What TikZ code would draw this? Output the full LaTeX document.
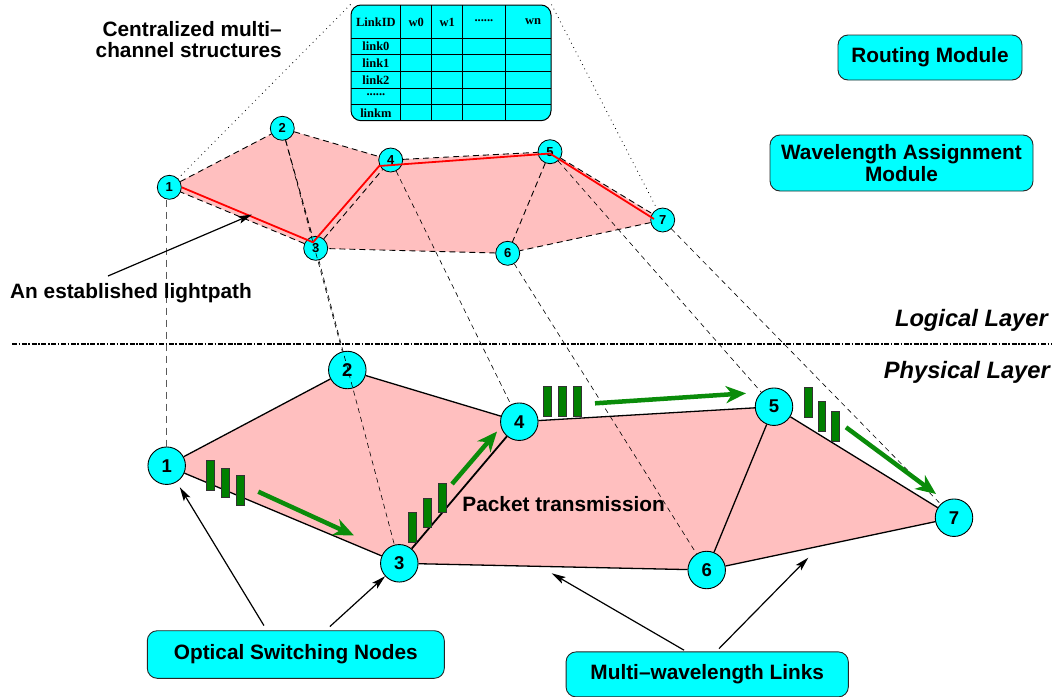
\documentclass[tikz,border=0pt]{standalone}
\usepackage{fontspec}
\setmainfont{Liberation Sans}
\newfontfamily\tabfont{Liberation Serif}
\usetikzlibrary{arrows.meta,calc}
\pgfdeclarelayer{bg}
\pgfsetlayers{bg,main}
\definecolor{ncyan}{RGB}{0,255,255}
\definecolor{npink}{RGB}{255,191,191}
\definecolor{bargreen}{RGB}{0,128,0}
\definecolor{arrgreen}{RGB}{10,140,10}
\begin{document}
\begin{tikzpicture}[x=1pt,y=-1pt,
  lnode/.style={circle,draw=black,line width=0.8pt,fill=ncyan,minimum size=24pt,inner sep=0pt,font=\bfseries\fontsize{13}{13}\selectfont},
  pnode/.style={circle,draw=black,line width=0.9pt,fill=ncyan,minimum size=37.5pt,inner sep=0pt,font=\bfseries\fontsize{18.5}{18.5}\selectfont},
  infobox/.style={draw=black!85,line width=0.9pt,fill=ncyan,rounded corners=10pt,inner sep=0pt,align=center,font=\bfseries\fontsize{20.8}{22}\selectfont},
  lbltext/.style={inner sep=0pt,font=\bfseries\fontsize{20.8}{22}\selectfont},
  layertext/.style={inner sep=0pt,font=\bfseries\itshape\fontsize{23.7}{26}\selectfont},
  tabtxt/.style={inner sep=0pt,font=\tabfont\bfseries\fontsize{12.5}{12.5}\selectfont},
  tabline/.style={draw=black,line width=0.9pt},
  pedge/.style={draw=black,line width=1.3pt},
  ledge/.style={draw=black,line width=0.9pt,dash pattern=on 6pt off 4pt},
  proj/.style={draw=black,line width=0.6pt,dash pattern=on 5pt off 4pt},
  projgray/.style={draw=black!65,line width=1pt,dash pattern=on 7pt off 5pt},
  dotline/.style={draw=black,line width=0.8pt,dash pattern=on 0.8pt off 4pt},
  redpath/.style={draw=red,line width=1.8pt},
  gbar/.style={draw=black!80,line width=0.8pt,fill=bargreen},
  garr/.style={draw=arrgreen,line width=4.5pt,-{Stealth[length=20pt,width=17pt,inset=6pt]}},
  barr/.style={draw=black,line width=1.2pt,-{Stealth[length=14pt,width=7.5pt,inset=3pt]}}
]
\useasboundingbox (0,0) rectangle (1057,696);

% ---------- table ----------
\node[draw=black,line width=1pt,fill=ncyan,rounded corners=10pt,minimum width=200pt,minimum height=115.7pt,inner sep=0pt] (tab) at (451,62.85) {};
\foreach \xx in {400.7,431.7,462.7,505} \draw[tabline] (\xx,5) -- (\xx,120.7);
\foreach \yy in {38.3,54.3,71.2,88,104.7} \draw[tabline] (351,\yy) -- (551,\yy);
\node[tabtxt] (h0) at (375.9,22) {LinkID};
\node[tabtxt] (h1) at (416.2,22) {w0};
\node[tabtxt] (h2) at (447.2,22) {w1};
\node[tabtxt] (h3) at (483.9,22) {\raisebox{3pt}{......}};
\node[tabtxt] (h4) at (533,22) {wn};
\node[tabtxt] (r0) at (375.9,46.5) {link0};
\node[tabtxt] (r1) at (375.9,63) {link1};
\node[tabtxt] (r2) at (375.9,79.8) {link2};
\node[tabtxt] (r3) at (375.9,96.5) {\raisebox{3pt}{......}};
\node[tabtxt] (r4) at (375.9,112.9) {linkm};

% ---------- logical nodes ----------
\node[lnode] (L1) at (169.3,187.3) {1};
\node[lnode] (L2) at (282.3,128.3) {2};
\node[lnode] (L3) at (315.7,248.3) {3};
\node[lnode] (L4) at (390.7,160) {4};
\node[lnode] (L5) at (550,151.7) {5};
\node[lnode] (L6) at (507.7,253.3) {6};
\node[lnode] (L7) at (662.7,220) {7};

% ---------- physical nodes ----------
\node[pnode] (P1) at (166.7,465.7) {1};
\node[pnode] (P2) at (347.3,370) {2};
\node[pnode] (P3) at (399.3,563.3) {3};
\node[pnode] (P4) at (519.3,421.7) {4};
\node[pnode] (P5) at (774,406.7) {5};
\node[pnode] (P6) at (706.7,570) {6};
\node[pnode] (P7) at (954,517.7) {7};

\begin{pgfonlayer}{bg}
  \fill[npink] (L1.center) -- (L2.center) -- (L4.center) -- (L5.center) -- (L7.center) -- (L6.center) -- (L3.center) -- cycle;
  \fill[npink] (P1.center) -- (P2.center) -- (P4.center) -- (P5.center) -- (P7.center) -- (P6.center) -- (P3.center) -- cycle;
  \draw[pedge] (P1) -- (P2);
  \draw[pedge] (P2) -- (P4);
  \draw[pedge] (P4) -- (P5);
  \draw[pedge] (P5) -- (P7);
  \draw[pedge] (P7) -- (P6);
  \draw[pedge] (P6) -- (P3);
  \draw[pedge] (P3) -- (P1);
  \draw[pedge,line width=1.8pt] (P3) -- (P4);
  \draw[pedge] (P5) -- (P6);
\end{pgfonlayer}

% ---------- logical dashed links ----------
\draw[ledge] (L1) -- (L2);
\draw[ledge] (L2) -- (L4);
\draw[ledge] (L4) -- (L5);
\draw[ledge] (L5) -- (L7);
\draw[ledge] (L7) -- (L6);
\draw[ledge] (L6) -- (L3);
\draw[ledge] (L3) -- (L1);
\draw[ledge] (L2) -- (L3);
\draw[ledge] (L3) -- (L4);
\draw[ledge] (L5) -- (L6);

% ---------- projections ----------
\draw[projgray] (P1 |- L1.south) -- (P1);
\draw[proj] (L2) -- (P2);
\draw[proj] (L3) -- (P3);
\draw[proj] (L4) -- (P4);
\draw[proj] (L6) -- (P6);
\draw[proj] (L5) -- (P5);
\draw[proj] (L7) -- (P7);
\draw[dotline] (tab.north west) -- (L1);
\draw[dotline] (tab.north east) -- (L7);

% ---------- lightpath ----------
\draw[redpath,line join=round] (L1.east) -- ($(L3.center)+(-2.7,-6)$) -- ($(L4.center)+(-11.5,6)$) -- ($(L5.center)+(0,1.8)$) -- ($(L7.center)+(-8.7,-1)$);

% ---------- layer separator ----------
\draw[black,line width=2.6pt,dash pattern=on 5pt off 1.6pt on 1.6pt off 1.6pt] (12,344) -- (1052,344);
\node[layertext,anchor=base east] (logl) at (1048,326) {Logical Layer};
\node[layertext,anchor=base east] (phyl) at (1050,378) {Physical Layer};

% ---------- packets ----------
\draw[gbar] (206.5,460.7) rectangle (214,490);
\draw[gbar] (221.5,468.3) rectangle (229,497.3);
\draw[gbar] (236.5,475.7) rectangle (244,505);
\draw[gbar] (408.7,512.7) rectangle (416.7,542.3);
\draw[gbar] (423.3,498.3) rectangle (431.5,527.3);
\draw[gbar] (438.3,483.3) rectangle (446.5,512.7);
\draw[gbar] (543.3,386) rectangle (551.5,416);
\draw[gbar] (558.3,386) rectangle (566.5,416);
\draw[gbar] (573.3,386) rectangle (581.5,416);
\draw[gbar] (804.3,387.3) rectangle (812.3,417.3);
\draw[gbar] (818,401) rectangle (825.7,431);
\draw[gbar] (831.3,411.3) rectangle (839.3,441.3);

\draw[garr] (258.3,491.7) -- (354,535.5);
\draw[garr] (452,484) -- (497,431.5);
\draw[garr] (595,403.3) -- (746,393.3);
\draw[garr] (846,427.3) -- (936,494);

\node[lbltext,anchor=base east] (ptx) at (665,511.7) {Packet transmission};

% ---------- labels ----------
\node[lbltext,anchor=base east] (cms1) at (282,36) {Centralized multi–};
\node[lbltext,anchor=base east] (cms2) at (282,57.3) {channel structures};
\node[infobox,minimum width=184pt,minimum height=45pt] (rm) at (930,57.5) {Routing Module};
\node[infobox,minimum width=263pt,minimum height=56pt] (wam) at (901.5,163) {Wavelength Assignment\\Module};

\node[lbltext,anchor=base west] (estl) at (10,298) {An established lightpath};
\coordinate (lpS) at (108,276);
\coordinate (lpT) at (252,214.5);
\draw[barr] (lpS) -- (lpT);

\node[infobox,minimum width=297pt,minimum height=47.6pt] (osn) at (295.8,654.5) {Optical Switching Nodes};
\node[infobox,minimum width=282.3pt,minimum height=45pt] (mwl) at (707.2,674.4) {Multi–wavelength Links};

\draw[barr,shorten <=5.5pt,shorten >=6pt] ([xshift=-29pt]osn.north) -- (P1);
\draw[barr,shorten <=5.5pt] ([xshift=30pt]osn.north) -- (P3);
\coordinate (mt1) at (551.7,573.3);
\coordinate (mt2) at (808.3,557.7);
\draw[barr,shorten <=2.5pt] ([xshift=-21pt]mwl.north) -- (mt1);
\draw[barr,shorten <=4pt] ([xshift=9pt]mwl.north) -- (mt2);
\end{tikzpicture}
\end{document}
